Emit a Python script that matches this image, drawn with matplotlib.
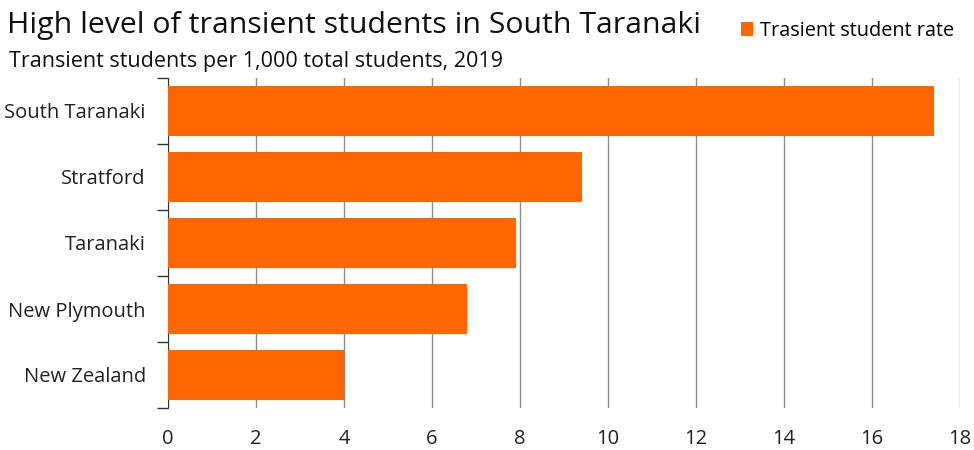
import matplotlib.pyplot as plt
import numpy as np

plt.rcParams['font.family'] = ['Open Sans', 'DejaVu Sans']

regions = ["South Taranaki", "Stratford", "Taranaki", "New Plymouth", "New Zealand"]
rate = [17.4, 9.4, 7.9, 6.8, 4.0]
xticks = [0, 2, 4, 6, 8, 10, 12, 14, 16, 18]

fig = plt.figure(figsize=(9.74, 4.5), dpi=100)
ax = fig.add_axes([168/974, 1-408/450, (960-168)/974, (408-78)/450])

y = np.arange(len(regions))
ax.barh(y, rate, height=0.76, color="#FF6600", zorder=3, label="Trasient student rate")
ax.set_ylim(len(regions)-0.5, -0.5)
ax.set_xlim(0, 18)

ax.set_xticks(xticks)
ax.set_xticklabels([str(t) for t in xticks], fontsize=14.5, color="#222222")
ax.tick_params(axis="x", length=0, pad=15)
ax.xaxis.grid(True, color="#8c8c8c", linewidth=1, zorder=0)

ax.set_yticks(y)
ax.set_yticklabels(regions, fontsize=14.5, color="#222222")
ax.set_yticks(np.arange(len(regions)+1)-0.5, minor=True)
ax.tick_params(axis="y", which="major", length=0, pad=16)
ax.tick_params(axis="y", which="minor", length=8, width=1, color="#333333")

for s in ["top", "right", "bottom"]:
    ax.spines[s].set_visible(False)
ax.spines["left"].set_color("#333333")

fig.text(7/974, 1-25/450, "High level of transient students in South Taranaki",
         fontsize=21.8, va="center", ha="left", color="#111111")
fig.text(9/974, 1-62/450, "Transient students per 1,000 total students, 2019",
         fontsize=15.5, va="center", ha="left", color="#111111")

leg = fig.legend(loc="center left", bbox_to_anchor=(741/974, 1-31/450), frameon=False,
                 fontsize=14.3, handlelength=0.6, handleheight=0.7, handletextpad=0.35,
                 borderpad=0, borderaxespad=0)

fig.savefig("out.png", dpi=100)
